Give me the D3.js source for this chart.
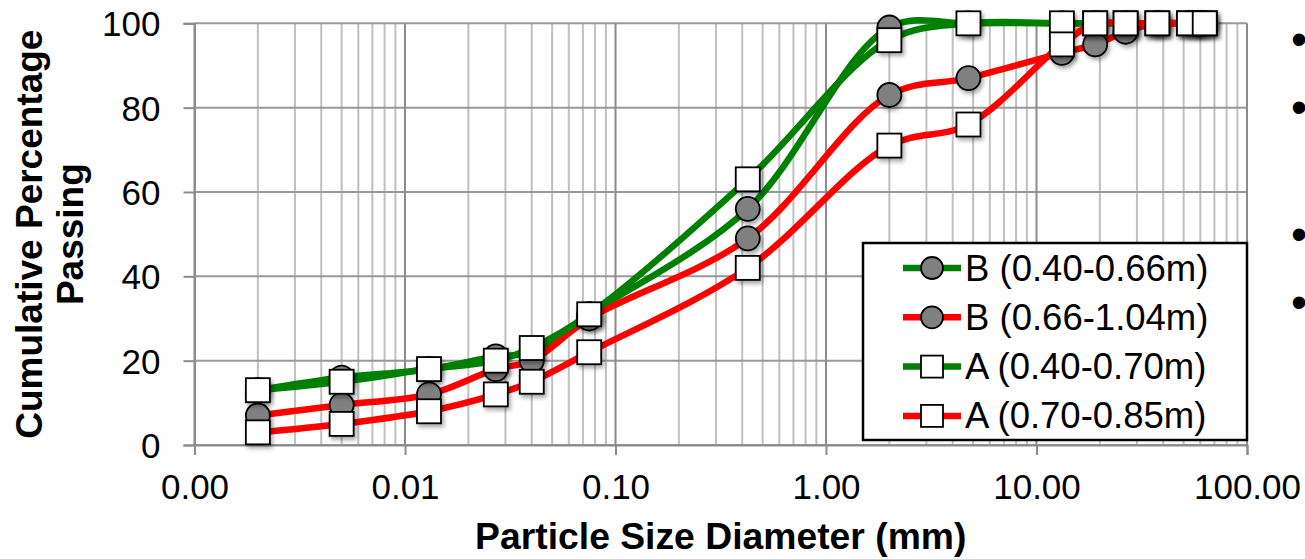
<!DOCTYPE html>
<html>
<head>
<meta charset="utf-8">
<script src="https://cdn.jsdelivr.net/npm/d3@7"></script>
<style>
body { margin: 0; background: #fff; }
text { font-family: "Liberation Sans", Arial, sans-serif; fill: #000; }
</style>
</head>
<body>
<div id="chart"></div>
<script>
// sieve sizes (mm)
var sizes = [0.002, 0.005, 0.013, 0.027, 0.04, 0.075, 0.425, 2.0, 4.75, 13.2, 19, 26.5, 37.5, 53, 63]

// cumulative % passing
var passB1 = [13, 16, 18, 21, 22, 31, 56, 99, 100, 100, 100, 100, 100, 100, 100]
var passB2 = [7, 9.5, 12, 18, 20, 30, 49, 83, 87, 93, 95, 98, 100, 100, 100]
var passA1 = [13, 15, 18, 20, 23, 31, 63, 96, 100, 100, 100, 100, 100, 100, 100]
var passA2 = [3, 5, 8, 12, 15, 22, 42, 71, 76, 95, 100, 100, 100, 100, 100]

var seriesNames = ['B (0.40-0.66m)', 'B (0.66-1.04m)', 'A (0.40-0.70m)', 'A (0.70-0.85m)']
var seriesColors = ['#008000', '#ff0000', '#008000', '#ff0000']
var seriesMarkers = ['circle', 'circle', 'square', 'square']

var xTicks = [0.001, 0.01, 0.1, 1, 10, 100]
var yTicks = [0, 20, 40, 60, 80, 100]

var margin = { top: 23.3, right: 58, bottom: 114, left: 194.5 }
var W = 1305, H = 559
var width = W - margin.left - margin.right
var height = H - margin.top - margin.bottom

var svg = d3.select('#chart').append('svg')
    .attr('width', W)
    .attr('height', H)

var defs = svg.append('defs')
var shadow = defs.append('filter')
    .attr('id', 'shadow')
    .attr('x', '-50%').attr('y', '-50%')
    .attr('width', '200%').attr('height', '200%')
shadow.append('feDropShadow')
    .attr('dx', 2).attr('dy', 3)
    .attr('stdDeviation', 2)
    .attr('flood-color', '#000')
    .attr('flood-opacity', 0.35)

var g = svg.append('g')
    .attr('transform', 'translate(' + margin.left + ',' + margin.top + ')')

var x = d3.scaleLog().domain([0.001, 100]).range([0, width])
var y = d3.scaleLinear().domain([0, 100]).range([height, 0])

// minor vertical grid
var minor = []
xTicks.slice(0, -1).forEach(function(d) {
    for (var k = 2; k <= 9; k++) minor.push(d * k)
})
g.append('g').selectAll('line').data(minor).enter().append('line')
    .attr('x1', function(d) { return x(d) }).attr('x2', function(d) { return x(d) })
    .attr('y1', 0).attr('y2', height)
    .attr('stroke', '#c0c0c0').attr('stroke-width', 2)

// horizontal grid
g.append('g').selectAll('line').data(yTicks).enter().append('line')
    .attr('x1', 0).attr('x2', width)
    .attr('y1', function(d) { return y(d) }).attr('y2', function(d) { return y(d) })
    .attr('stroke', '#999').attr('stroke-width', 2)

// major vertical grid
g.append('g').selectAll('line').data(xTicks).enter().append('line')
    .attr('x1', function(d) { return x(d) }).attr('x2', function(d) { return x(d) })
    .attr('y1', 0).attr('y2', height)
    .attr('stroke', '#8c8c8c').attr('stroke-width', 2)

// axes
var xAxis = g.append('g')
    .attr('transform', 'translate(0,' + height + ')')
    .call(d3.axisBottom(x).tickValues(xTicks).tickFormat(d3.format('.2f')).tickSize(10).tickPadding(19))
var yAxis = g.append('g')
    .call(d3.axisLeft(y).tickValues(yTicks).tickFormat(d3.format('d')).tickSize(11).tickPadding(23))

;[xAxis, yAxis].forEach(function(a) {
    a.select('.domain').attr('stroke', '#8c8c8c').attr('stroke-width', 2)
    a.selectAll('.tick line').attr('stroke', '#8c8c8c').attr('stroke-width', 2)
    a.selectAll('.tick text').attr('font-size', 35).attr('fill', '#000')
        .style('font-family', '"Liberation Sans", Arial, sans-serif')
})
yAxis.selectAll('.tick text').attr('dy', '0.36em')

// series
var allPass = [passB1, passB2, passA1, passA2]
var line = d3.line()
    .x(function(d) { return x(d[0]) })
    .y(function(d) { return y(d[1]) })
    .curve(d3.curveCatmullRom.alpha(0.5))

function drawMarker(sel, type, size) {
    if (type === 'circle') {
        sel.append('circle').attr('r', size / 2)
            .attr('fill', '#808080').attr('stroke', '#000').attr('stroke-width', 1.8)
    } else {
        sel.append('rect')
            .attr('x', -size / 2).attr('y', -size / 2)
            .attr('width', size).attr('height', size)
            .attr('fill', '#fff').attr('stroke', '#000').attr('stroke-width', 1.8)
    }
}

allPass.forEach(function(vals, i) {
    var pts = sizes.map(function(s, j) { return [s, vals[j]] })
    var sg = g.append('g')
    sg.append('path')
        .datum(pts)
        .attr('d', line)
        .attr('fill', 'none')
        .attr('stroke', seriesColors[i])
        .attr('stroke-width', 6.5)
    sg.selectAll('g.mk').data(pts).enter().append('g')
        .attr('class', 'mk')
        .attr('filter', 'url(#shadow)')
        .attr('transform', function(d) { return 'translate(' + x(d[0]) + ',' + y(d[1]) + ')' })
        .each(function() { drawMarker(d3.select(this), seriesMarkers[i], 24) })
})

// legend
var legend = svg.append('g').attr('transform', 'translate(863,243)')
legend.append('rect')
    .attr('width', 384).attr('height', 197)
    .attr('fill', '#fff').attr('stroke', '#000').attr('stroke-width', 2.5)
seriesNames.forEach(function(name, i) {
    var row = legend.append('g').attr('transform', 'translate(0,' + (25 + i * 49.3) + ')')
    row.append('line')
        .attr('x1', 40).attr('x2', 98)
        .attr('stroke', seriesColors[i]).attr('stroke-width', 6.5)
    var m = row.append('g').attr('transform', 'translate(69,0)')
    drawMarker(m, seriesMarkers[i], 22)
    row.append('text')
        .attr('x', 102).attr('y', 12.5)
        .attr('font-size', 36.5)
        .text(name)
})

// axis titles
svg.append('text')
    .attr('x', margin.left + width / 2).attr('y', 549)
    .attr('text-anchor', 'middle')
    .attr('font-size', 37.3).attr('font-weight', 'bold')
    .text('Particle Size Diameter (mm)')

var yt = svg.append('text')
    .attr('transform', 'translate(42,' + (margin.top + height / 2) + ') rotate(-90)')
    .attr('text-anchor', 'middle')
    .attr('font-size', 37).attr('font-weight', 'bold')
yt.append('tspan').attr('x', 0).attr('y', 0).text('Cumulative Percentage')
yt.append('tspan').attr('x', 0).attr('y', 41).text('Passing')

// bullets of the neighbouring slide text
var bulletY = [40, 108, 235, 303]
svg.append('g').selectAll('text').data(bulletY).enter().append('text')
    .attr('x', 1291).attr('y', function(d) { return d + 15 })
    .attr('font-size', 46)
    .text('\u2022')
</script>
</body>
</html>
